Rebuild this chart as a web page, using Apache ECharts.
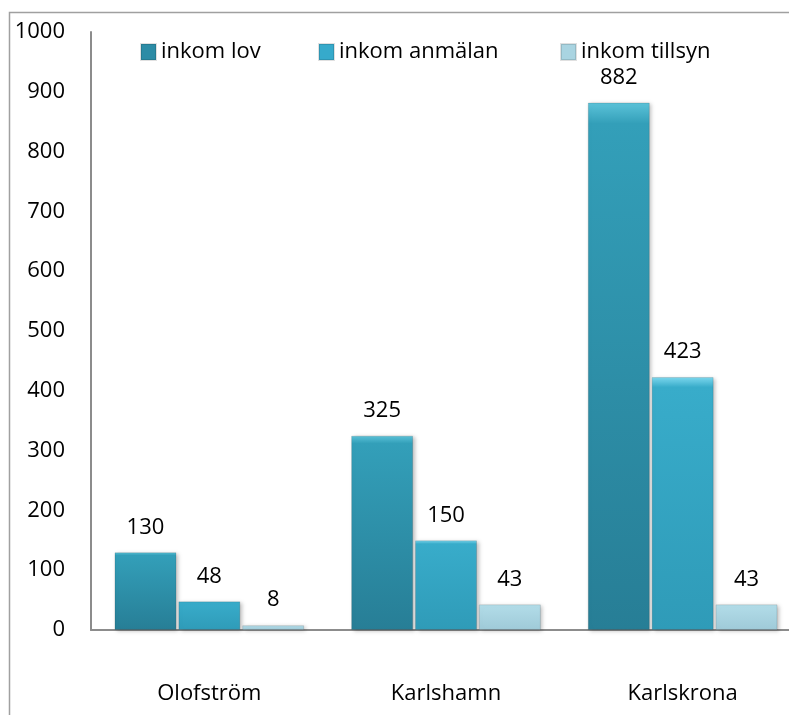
<!DOCTYPE html>
<html>
<head>
<meta charset="utf-8">
<script src="https://cdn.jsdelivr.net/npm/echarts@6/dist/echarts.min.js"></script>
<style>
  html, body { margin: 0; padding: 0; background: #ffffff; }
  #chart { width: 789px; height: 715px; }
</style>
</head>
<body>
<div id="chart"></div>
<script>
  // data
  var categories = ['Olofström', 'Karlshamn', 'Karlskrona'];
  var seriesNames = ['inkom lov', 'inkom anmälan', 'inkom tillsyn'];
  var inkomLov = [130, 325, 882];
  var inkomAnmalan = [48, 150, 423];
  var inkomTillsyn = [8, 43, 43];

  var font = '"Open Sans", sans-serif';

  function bevel(top, mid, bottom) {
    return {
      type: 'linear', x: 0, y: 0, x2: 0, y2: 1,
      colorStops: [
        { offset: 0, color: top },
        { offset: 0.04, color: mid },
        { offset: 1, color: bottom }
      ]
    };
  }

  var colors = [
    bevel('#5cc3d9', '#339fb9', '#277e96'),
    bevel('#7ed9ef', '#38acca', '#2f9bb8'),
    bevel('#e2f4f9', '#b2dce8', '#9fcad8')
  ];
  var legendColors = ['#2c8ca6', '#36aacb', '#a9d4e1'];

  function makeSeries(name, data, idx) {
    return {
      name: name,
      type: 'bar',
      data: data,
      barWidth: 62,
      barGap: '3%',
      itemStyle: {
        color: colors[idx],
        borderColor: 'rgba(0,0,0,0.12)',
        borderWidth: 1,
        shadowColor: 'rgba(0,0,0,0.25)',
        shadowBlur: 4,
        shadowOffsetX: 2,
        shadowOffsetY: 1
      },
      label: {
        show: true,
        position: 'top',
        distance: 14,
        color: '#000',
        fontFamily: font,
        fontSize: 22
      }
    };
  }

  function legendAt(name, left, idx) {
    return {
      data: [{ name: name, itemStyle: { color: legendColors[idx] } }],
      left: left,
      top: 36,
      itemWidth: 15,
      itemHeight: 16,
      itemGap: 6,
      icon: 'rect',
      textStyle: { fontFamily: font, fontSize: 22, color: '#000' }
    };
  }

  var chart = echarts.init(document.getElementById('chart'));
  chart.setOption({
    animation: false,
    backgroundColor: '#ffffff',
    graphic: [{
      type: 'rect',
      shape: { x: 9.5, y: 12.5, width: 820, height: 760 },
      style: { fill: 'none', stroke: '#a0a0a0', lineWidth: 1.5 },
      silent: true
    }],
    legend: [
      legendAt(seriesNames[0], 135, 0),
      legendAt(seriesNames[1], 313, 1),
      legendAt(seriesNames[2], 555, 2)
    ],
    grid: {
      left: 91,
      top: 32,
      width: 710,
      height: 598,
      outerBoundsMode: 'none'
    },
    xAxis: {
      type: 'category',
      data: categories,
      axisLine: { lineStyle: { color: '#8c8c8c', width: 2 } },
      axisTick: { show: false },
      axisLabel: { color: '#000', fontFamily: font, fontSize: 22, margin: 53 }
    },
    yAxis: {
      type: 'value',
      min: 0,
      max: 1000,
      interval: 100,
      splitLine: { show: false },
      axisLine: { show: true, lineStyle: { color: '#8c8c8c', width: 2 } },
      axisTick: { show: false },
      axisLabel: {
        color: '#000', fontFamily: font, fontSize: 22, margin: 26,
        formatter: function (v) { return String(v); }
      }
    },
    series: [
      makeSeries(seriesNames[0], inkomLov, 0),
      makeSeries(seriesNames[1], inkomAnmalan, 1),
      makeSeries(seriesNames[2], inkomTillsyn, 2)
    ]
  });
</script>
</body>
</html>
